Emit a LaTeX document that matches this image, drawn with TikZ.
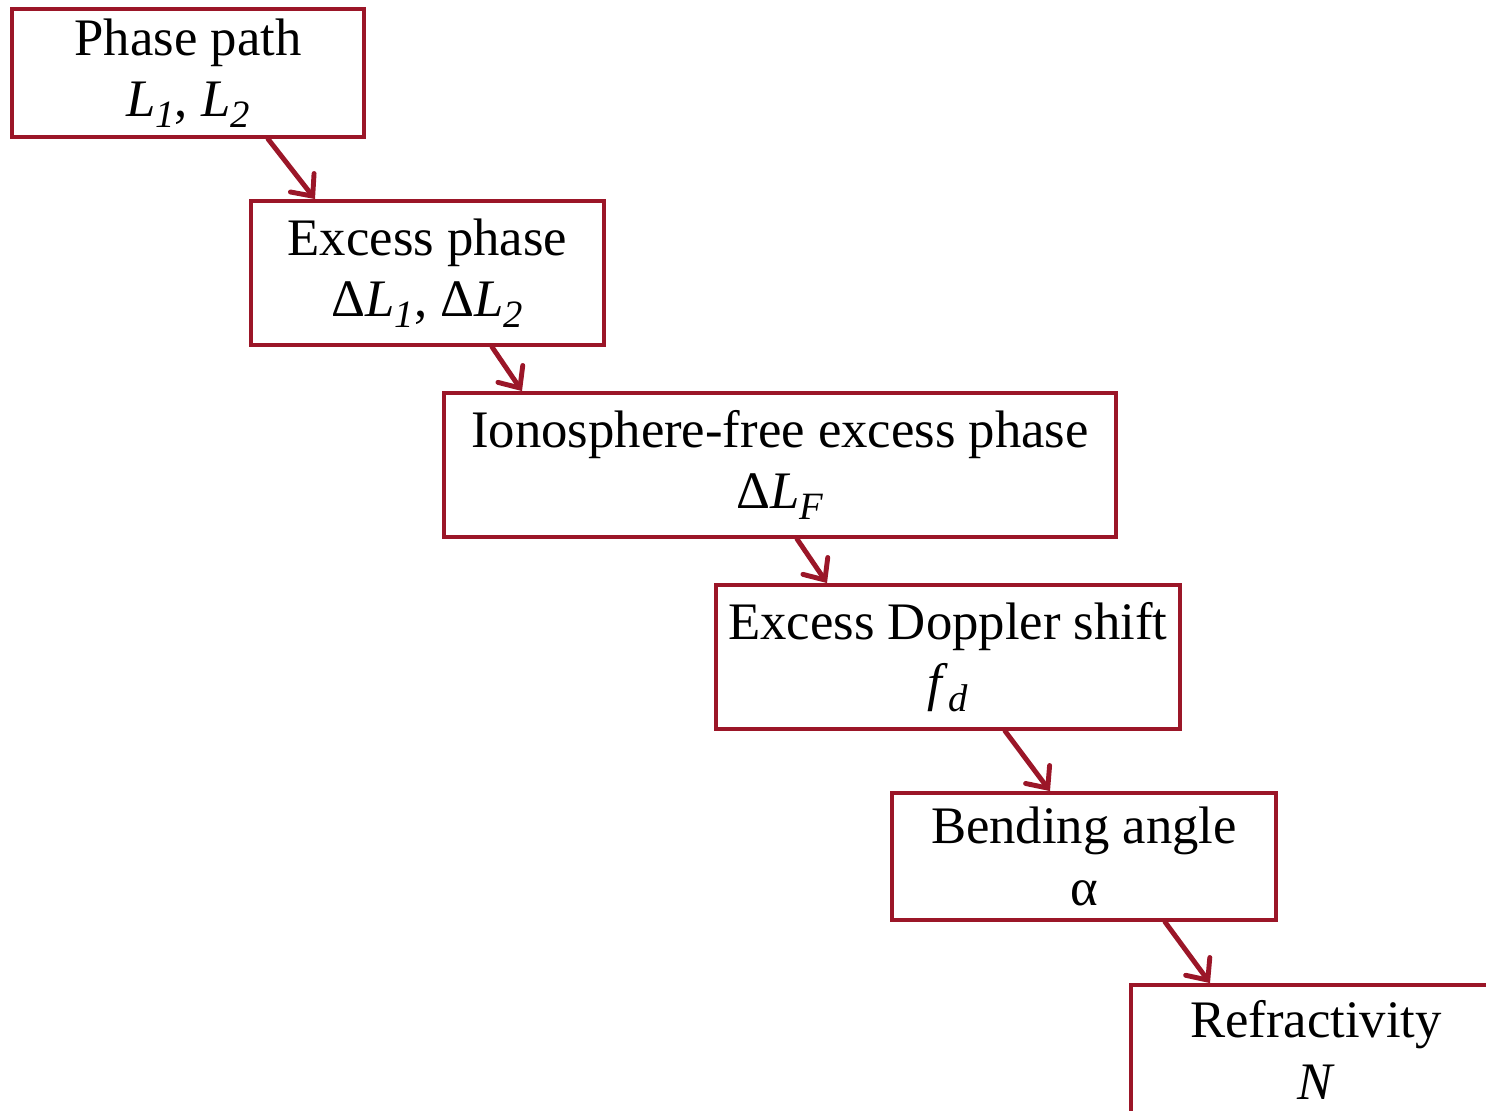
\documentclass[tikz,border=0pt]{standalone}
\usepackage{fontspec}
\setmainfont{Liberation Serif}
\usepackage{tikz}
\usetikzlibrary{arrows.meta}
\usepackage{xcolor}

\definecolor{boxred}{RGB}{155,22,40}
\newcommand{\lsub}[1]{\raisebox{-0.45ex}{\fontsize{11}{11}\selectfont\textit{#1}}}

\tikzset{
	stage/.style={draw=boxred, line width=1.1pt, fill=white, align=center, inner sep=0pt,
		font=\fontsize{15}{17.5}\selectfont},
	flow/.style={draw=boxred, line width=1.4pt, line cap=round,
		-{Straight Barb[length=1.7mm, width=3mm, line cap=round]}}
}

\begin{document}
\begin{tikzpicture}
		\useasboundingbox (0,0) rectangle (14.86,-11.11);
		\clip (0,0) rectangle (14.86,-11.11);

		% Processing stages
		\node[stage, minimum width=3.52cm, minimum height=1.28cm] (phase) at (1.88,-0.73)
			{Phase path\\ \textit{L}\lsub{1}, \textit{L}\lsub{2}};
		\node[stage, minimum width=3.53cm, minimum height=1.44cm] (excess) at (4.275,-2.73)
			{Excess phase\\ Δ\textit{L}\lsub{1}, Δ\textit{L}\lsub{2}};
		\node[stage, minimum width=6.72cm, minimum height=1.44cm] (ionofree) at (7.80,-4.65)
			{Ionosphere-free excess phase\\ Δ\textit{L}\lsub{F}};
		\node[stage, minimum width=4.64cm, minimum height=1.44cm] (doppler) at (9.48,-6.57)
			{Excess Doppler shift\\ \textit{f}\lsub{d}};
		\node[stage, minimum width=3.84cm, minimum height=1.27cm] (bending) at (10.84,-8.565)
			{Bending angle\\ α};
		\node[stage, minimum width=3.7cm, minimum height=1.7cm, text depth=0.4cm] (refract) at (13.16,-10.70)
			{Refractivity\\ \textit{N}};

		% Arrows between stages
		\draw[flow] ([xshift=0.80cm]phase.south) -- ([xshift=-1.125cm]excess.north);
		\draw[flow] ([xshift=0.645cm]excess.south) -- ([xshift=-2.58cm]ionofree.north);
		\draw[flow] ([xshift=0.17cm]ionofree.south) -- ([xshift=-1.21cm]doppler.north);
		\draw[flow] ([xshift=0.57cm]doppler.south) -- ([xshift=-0.34cm]bending.north);
		\draw[flow] ([xshift=0.81cm]bending.south) -- ([xshift=-1.06cm]refract.north);
	\end{tikzpicture}
\end{document}
